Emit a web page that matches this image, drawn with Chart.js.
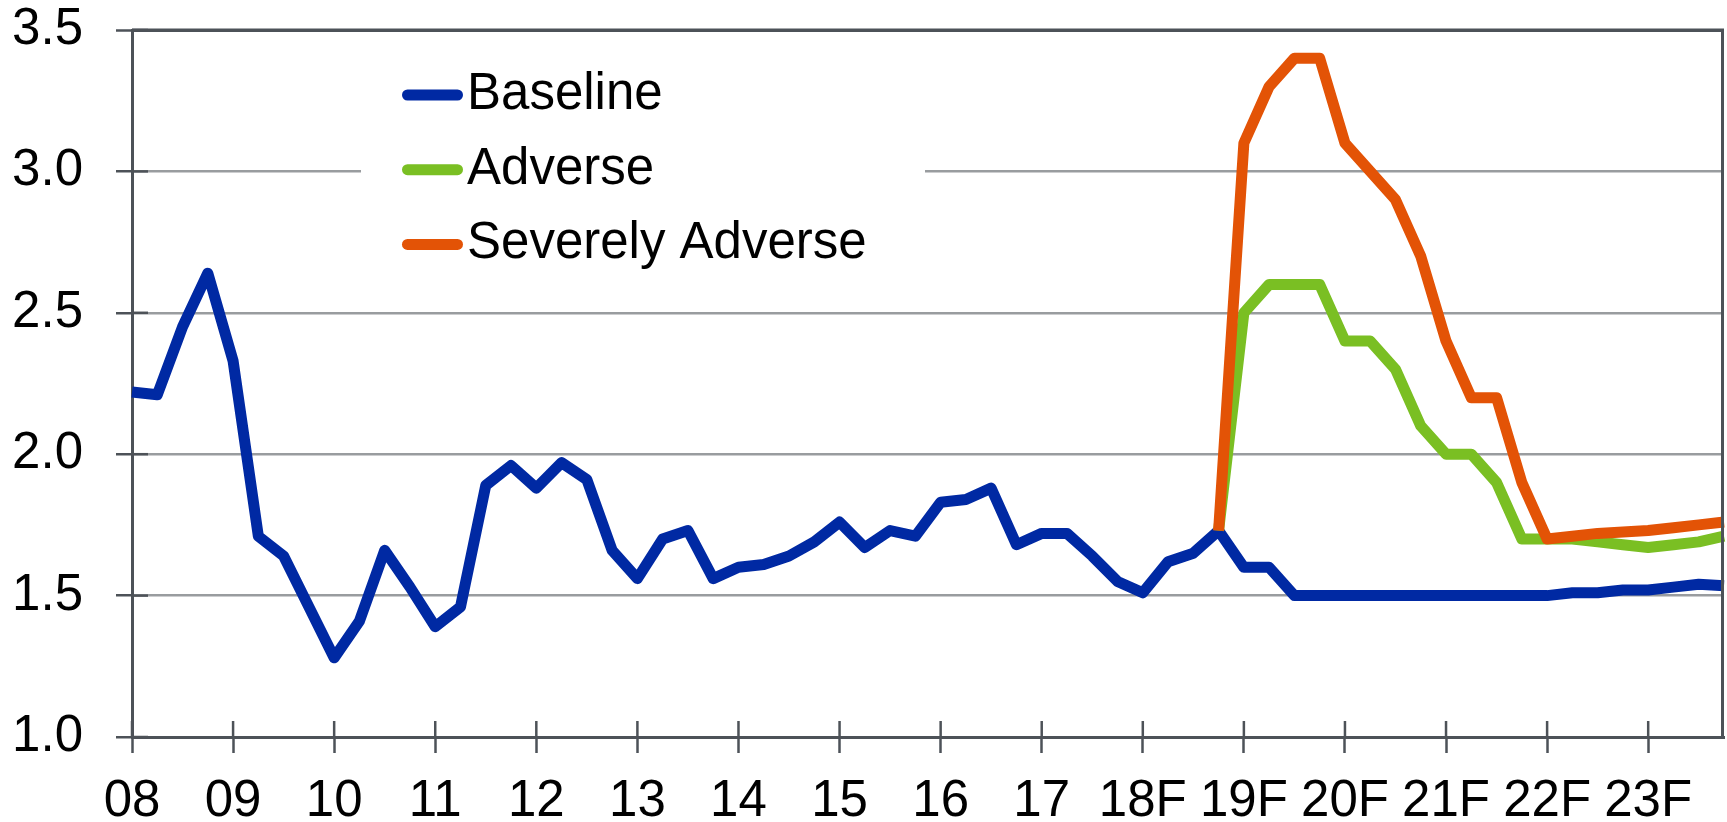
<!DOCTYPE html>
<html lang="en">
<head>
<meta charset="UTF-8">
<script src="https://cdn.jsdelivr.net/npm/chart.js"></script>
<title>Scenarios</title>
<style>
  body { margin: 0; background: #fff; }
  .wrap { width: 1727px; height: 822px; }
</style>
</head>
<body>
<div class="wrap"><canvas id="myChart"></canvas></div>
<script>
    // year tick labels, one per year (4 quarters each)
    var yearLabels = ['08', '09', '10', '11', '12', '13', '14', '15', '16', '17', '18F', '19F', '20F', '21F', '22F', '23F']
    var quarters = []
    for (var y = 0; y < yearLabels.length; y++) {
        for (var q = 1; q <= 4; q++) quarters.push(yearLabels[y] + 'Q' + q)
    }
    var yTicks = [1.0, 1.5, 2.0, 2.5, 3.0, 3.5]

    var baseline = [
        2.22, 2.21, 2.45, 2.64,
        2.33, 1.71, 1.64, 1.46,
        1.28, 1.41, 1.66, 1.53,
        1.39, 1.46, 1.89, 1.96,
        1.88, 1.97, 1.91, 1.66,
        1.56, 1.70, 1.73, 1.56,
        1.60, 1.61, 1.64, 1.69,
        1.76, 1.67, 1.73, 1.71,
        1.83, 1.84, 1.88, 1.68,
        1.72, 1.72, 1.64, 1.55,
        1.51, 1.62, 1.65, 1.73,
        1.60, 1.60, 1.50, 1.50,
        1.50, 1.50, 1.50, 1.50,
        1.50, 1.50, 1.50, 1.50,
        1.50, 1.51, 1.51, 1.52,
        1.52, 1.53, 1.54, 1.535
    ]
    var gap = new Array(43).fill(null)
    var adverse = gap.concat([
        1.73,
        2.50, 2.60, 2.60, 2.60,
        2.40, 2.40, 2.30, 2.10,
        2.00, 2.00, 1.90, 1.70,
        1.70, 1.70, 1.69, 1.68,
        1.67, 1.68, 1.69, 1.71
    ])
    var severe = gap.concat([
        1.73,
        3.10, 3.30, 3.40, 3.40,
        3.10, 3.00, 2.90, 2.70,
        2.40, 2.20, 2.20, 1.90,
        1.70, 1.71, 1.72, 1.725,
        1.73, 1.74, 1.75, 1.76
    ])

    var dark = '#4d5258'
    var grey = '#999c9f'
    var fonte = 'Liberation Sans, Arial, sans-serif'

    // white legend box inside the plot, drawn over the grid
    var legendaBox = {
        id: 'legendaBox',
        beforeDatasetsDraw: function (chart) {
            var ctx = chart.ctx
            ctx.save()
            ctx.fillStyle = '#fff'
            ctx.fillRect(361, 55, 564, 225)
            ctx.restore()
        },
        afterDraw: function (chart) {
            var ctx = chart.ctx
            var area = chart.chartArea
            ctx.save()
            // frame top and right
            ctx.strokeStyle = dark
            ctx.lineWidth = 3
            ctx.beginPath()
            ctx.moveTo(area.left, area.top)
            ctx.lineTo(area.right - 1.5, area.top)
            ctx.lineTo(area.right - 1.5, area.bottom)
            ctx.stroke()
            // inner part of tick marks
            ctx.lineWidth = 2.5
            var xs = chart.scales.x
            for (var i = 0; i < quarters.length; i += 4) {
                var px = xs.getPixelForValue(i)
                ctx.beginPath()
                ctx.moveTo(px, area.bottom)
                ctx.lineTo(px, area.bottom - 16)
                ctx.stroke()
            }
            var ys = chart.scales.y
            yTicks.forEach(function (v) {
                var py = ys.getPixelForValue(v)
                ctx.beginPath()
                ctx.moveTo(area.left, py)
                ctx.lineTo(area.left + 16, py)
                ctx.stroke()
            })
            // legend entries
            ctx.font = '51px ' + fonte
            ctx.textBaseline = 'middle'
            ctx.lineCap = 'round'
            ctx.lineWidth = 11
            chart.data.datasets.forEach(function (ds, k) {
                var cy = 95 + k * 74.7
                ctx.strokeStyle = ds.borderColor
                ctx.beginPath()
                ctx.moveTo(407.5, cy)
                ctx.lineTo(457.5, cy)
                ctx.stroke()
                ctx.fillStyle = '#000'
                ctx.fillText(ds.label, 467, cy)
            })
            ctx.restore()
        }
    }

    var dados = {
        labels: quarters,
        datasets: [{
            label: 'Baseline',
            data: baseline,
            borderColor: '#0029a3',
            order: 3
        }, {
            label: 'Adverse',
            data: adverse,
            borderColor: '#7abf23',
            order: 2
        }, {
            label: 'Severely Adverse',
            data: severe,
            borderColor: '#e35306',
            order: 1
        }]
    }
    dados.datasets.forEach(function (ds) {
        ds.borderWidth = 11
        ds.pointRadius = 0
        ds.tension = 0
        ds.fill = false
        ds.borderJoinStyle = 'round'
        ds.spanGaps = false
    })

    const config = {
        type: 'line',
        data: dados,
        options: {
            responsive: true,
            maintainAspectRatio: false,
            animation: false,
            layout: { padding: { top: 30, right: 3, left: 0, bottom: 0 } },
            plugins: {
                legend: { display: false },
                tooltip: { enabled: false }
            },
            scales: {
                x: {
                    type: 'category',
                    offset: false,
                    afterFit: function (s) {
                        s.height = 85
                        s.paddingLeft = 0
                        s.paddingRight = 0
                    },
                    border: { color: dark, width: 3 },
                    grid: {
                        drawOnChartArea: false,
                        drawTicks: true,
                        tickLength: 16,
                        tickWidth: 2.5,
                        tickColor: function (c) { return c.index % 4 === 0 ? dark : 'rgba(0,0,0,0)' }
                    },
                    ticks: {
                        autoSkip: false,
                        maxRotation: 0,
                        minRotation: 0,
                        padding: 18,
                        color: '#000',
                        font: { family: fonte, size: 51 },
                        callback: function (v, i) { return i % 4 === 0 ? yearLabels[i / 4] : '' }
                    }
                },
                y: {
                    min: 1,
                    max: 3.5,
                    afterFit: function (s) {
                        s.width = 132
                        s.paddingTop = 0
                        s.paddingBottom = 0
                    },
                    border: { color: dark, width: 3 },
                    grid: {
                        color: function (c) { return c.tick && c.tick.value === 3.5 ? dark : grey },
                        lineWidth: function (c) { return c.tick && c.tick.value === 3.5 ? 3 : 2.5 },
                        tickLength: 16,
                        tickColor: dark,
                        tickWidth: 2.5
                    },
                    ticks: {
                        stepSize: 0.5,
                        padding: 33,
                        color: '#000',
                        font: { family: fonte, size: 51 },
                        callback: function (v) { return v.toFixed(1) }
                    }
                }
            }
        },
        plugins: [legendaBox]
    }

    let myChart = new Chart(document.getElementById('myChart'), config)
</script>
</body>
</html>
